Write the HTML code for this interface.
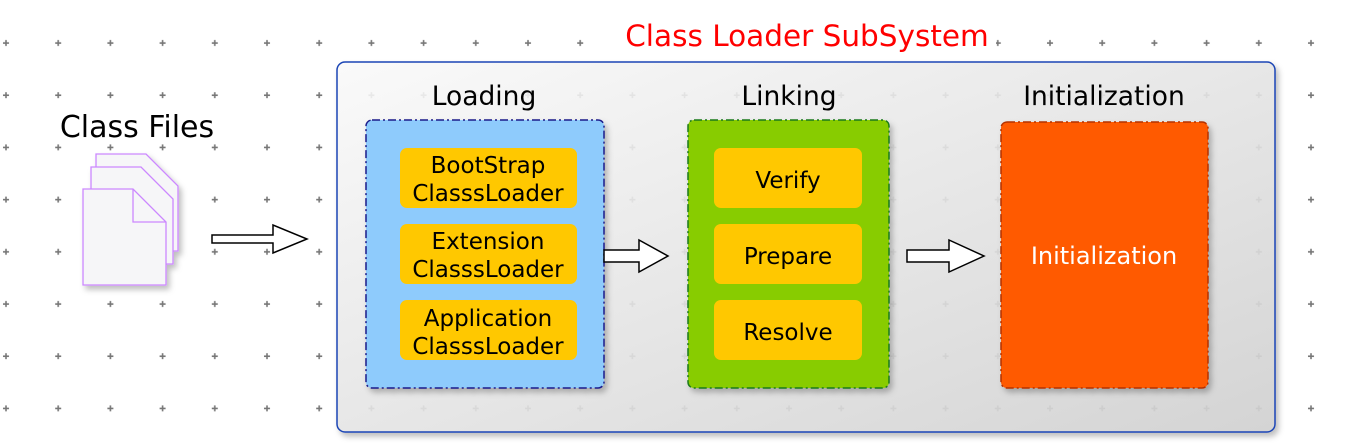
<!DOCTYPE html>
<html><head><meta charset="utf-8"><style>
html,body{margin:0;padding:0;background:#fff;}
svg{display:block;font-family:"DejaVu Sans","Liberation Sans",sans-serif;}
</style></head><body>
<svg width="1356" height="448" viewBox="0 0 1356 448" xmlns="http://www.w3.org/2000/svg">
<defs>
<pattern id="grid" x="0" y="18" width="52.2" height="52.2" patternUnits="userSpaceOnUse">
<path d="M6 22v6M3 25h6" stroke="#777" stroke-width="1.6"/>
</pattern>
<linearGradient id="cg" x1="0" y1="0" x2="1" y2="1">
<stop offset="0" stop-color="#fafafa"/><stop offset="1" stop-color="#d4d4d4"/>
</linearGradient>
<filter id="sh" x="-10%" y="-10%" width="130%" height="130%"><feDropShadow dx="3" dy="4" stdDeviation="3" flood-color="#000" flood-opacity="0.25"/></filter>
</defs>
<rect width="1356" height="448" fill="url(#grid)"/>
<rect x="618" y="16" width="378" height="38" fill="#fff"/>
<text x="807" y="46" text-anchor="middle" font-size="29.5" fill="#ff0000">Class Loader SubSystem</text>
<text x="137" y="137" text-anchor="middle" font-size="30" fill="#000">Class Files</text>
<g filter="url(#sh)" stroke="#cc88ff" stroke-width="1.3" fill="#f6f6f8">
<path d="M96 154h50l32 32v65h-82z"/>
<path d="M91 167h50l32 32v65h-82z"/>
<path d="M83 189h50l33 33v63h-83z"/>
</g>
<path d="M133 189v33h33" fill="none" stroke="#cc88ff" stroke-width="1.3"/>
<rect x="337" y="62" width="938" height="370" rx="8" fill="url(#cg)" stroke="#1a45b5" stroke-width="1.5" filter="url(#sh)"/>
<rect x="338" y="63" width="936" height="368" rx="8" fill="url(#grid)" opacity="0.12"/>
<text x="484" y="105" text-anchor="middle" font-size="26.5">Loading</text>
<text x="789" y="105" text-anchor="middle" font-size="26.5">Linking</text>
<text x="1104" y="105" text-anchor="middle" font-size="26.5">Initialization</text>
<rect x="366" y="120" width="238" height="268" rx="6" fill="#8ecbfc" stroke="#1a1a8a" stroke-width="1.5" stroke-dasharray="8,3,2,3" filter="url(#sh)"/>
<g fill="#ffc800">
<rect x="400" y="148" width="177" height="60" rx="7"/>
<rect x="400" y="224" width="177" height="60" rx="7"/>
<rect x="400" y="300" width="177" height="60" rx="7"/>
</g>
<rect x="688" y="120" width="201" height="268" rx="6" fill="#88cc00" stroke="#1a7a1a" stroke-width="1.5" stroke-dasharray="8,3,2,3" filter="url(#sh)"/>
<g fill="#ffc800">
<rect x="714" y="148" width="148" height="60" rx="7"/>
<rect x="714" y="224" width="148" height="60" rx="7"/>
<rect x="714" y="300" width="148" height="60" rx="7"/>
</g>
<rect x="1001" y="122" width="207" height="266" rx="6" fill="#ff5a00" stroke="#b33000" stroke-width="1.5" stroke-dasharray="8,3,2,3" filter="url(#sh)"/>
<g font-size="23" text-anchor="middle" fill="#000">
<text x="488" y="173">BootStrap</text><text x="488" y="201">ClasssLoader</text>
<text x="488" y="249">Extension</text><text x="488" y="277">ClasssLoader</text>
<text x="488" y="326">Application</text><text x="488" y="354">ClasssLoader</text>
<text x="788" y="188">Verify</text>
<text x="788" y="264">Prepare</text>
<text x="788" y="340">Resolve</text>
</g>
<text x="1104" y="264" text-anchor="middle" font-size="24" fill="#fff">Initialization</text>
<g fill="#fff" stroke="#000" stroke-width="1.5">
<path d="M212 235h61v-10l34 14l-34 14v-10h-61z"/>
<path d="M604 250h35v-10l29 16l-29 16v-10h-35z"/>
<path d="M907 250h42v-10l35 16l-35 16v-10h-42z"/>
</g>
</svg>
</body></html>
